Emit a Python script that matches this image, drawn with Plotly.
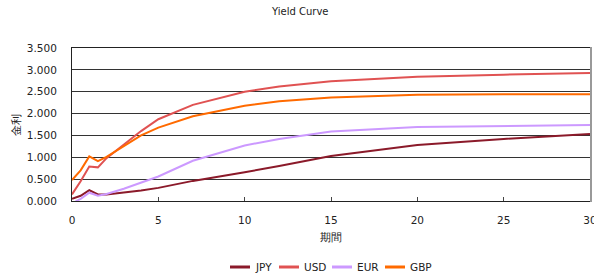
import plotly.graph_objects as go

tenors = [0, 0.5, 1, 1.5, 2, 3, 4, 5, 7, 10, 12, 15, 20, 25, 30]
eur_tenors = [0, 0.25, 0.5, 1, 1.5, 2, 3, 4, 5, 7, 10, 12, 15, 20, 25, 30]

jpy = [0.05, 0.12, 0.25, 0.15, 0.15, 0.19, 0.24, 0.30, 0.46, 0.66, 0.80, 1.03, 1.28, 1.42, 1.53]
usd = [0.15, 0.45, 0.79, 0.77, 0.98, 1.30, 1.60, 1.87, 2.20, 2.50, 2.62, 2.74, 2.84, 2.89, 2.93]
eur = [-0.10, 0.0, 0.05, 0.19, 0.12, 0.16, 0.28, 0.42, 0.56, 0.92, 1.27, 1.42, 1.59, 1.69, 1.71, 1.74]
gbp = [0.48, 0.70, 1.02, 0.91, 1.01, 1.26, 1.50, 1.68, 1.94, 2.18, 2.28, 2.37, 2.43, 2.44, 2.44]

series_names = ["JPY", "USD", "EUR", "GBP"]
series_colors = ["#8b1a2a", "#e05252", "#cc99ff", "#ff6a00"]

y_ticks = [0, 0.5, 1.0, 1.5, 2.0, 2.5, 3.0, 3.5]
x_ticks = [0, 5, 10, 15, 20, 25, 30]

font = "DejaVu Sans"
W, H = 594, 278
L, R, T, B = 72, 590, 48, 201


def xp(px):
    return (px - L) / (R - L)


def yp(py):
    return (B - py) / (B - T)


fig = go.Figure()
xs = [tenors, tenors, eur_tenors, tenors]
ys = [jpy, usd, eur, gbp]
for name, color, x, y in zip(series_names, series_colors, xs, ys):
    fig.add_trace(go.Scatter(x=x, y=y, name=name, mode="lines",
                             line=dict(color=color, width=2), showlegend=False))

# custom legend (short sample lines like the reference)
legend_starts = [230, 279, 332, 385]
shapes = []
annotations = []
for name, color, sx in zip(series_names, series_colors, legend_starts):
    shapes.append(dict(type="line", xref="paper", yref="paper",
                       x0=xp(sx), x1=xp(sx + 20), y0=yp(267), y1=yp(267),
                       line=dict(color=color, width=3)))
    annotations.append(dict(text=name, xref="paper", yref="paper",
                            x=xp(sx + 23), y=yp(267), xanchor="left", yanchor="middle",
                            showarrow=False, font=dict(family=font, size=10.5, color="#222")))

# right-edge gray border shading
shapes.append(dict(type="line", xref="paper", yref="paper",
                   x0=xp(R + 1), x1=xp(R + 1), y0=yp(B + 1), y1=yp(T - 1),
                   line=dict(color="#999", width=2)))

annotations.append(dict(text="Yield Curve", xref="paper", yref="paper",
                        x=xp(300), y=yp(12), xanchor="center", yanchor="middle",
                        showarrow=False, font=dict(family=font, size=10, color="#222")))

fig.update_layout(
    width=W, height=H,
    margin=dict(l=L, r=W - R, t=T, b=H - B, pad=0),
    paper_bgcolor="white", plot_bgcolor="white",
    font=dict(family=font, size=10.5, color="#222"),
    showlegend=False,
    shapes=shapes,
    annotations=annotations,
    xaxis=dict(range=[0, 30], tickvals=x_ticks, ticktext=[str(v) for v in x_ticks],
               showgrid=False, zeroline=False, showline=True, linecolor="#222", linewidth=1,
               mirror=True, ticks="inside", ticklen=4, tickcolor="#444",
               ticklabelstandoff=9, ticklabeloverflow="allow", automargin=False,
               title=dict(text="期間", standoff=9, font=dict(family=font, size=10.5))),
    yaxis=dict(range=[0, 3.5], tickvals=y_ticks, tickformat=".3f",
               showgrid=True, gridcolor="#333", gridwidth=1, zeroline=False,
               showline=True, linecolor="#222", linewidth=1, mirror=True,
               ticks="", ticklabelstandoff=12, automargin=False,
               title=dict(text="金利", standoff=4, font=dict(family=font, size=10.5))),
)

fig.write_html("out.html",
               config={"displayModeBar": False},
               post_script="document.body.style.margin='0';document.body.style.overflow='hidden';")
